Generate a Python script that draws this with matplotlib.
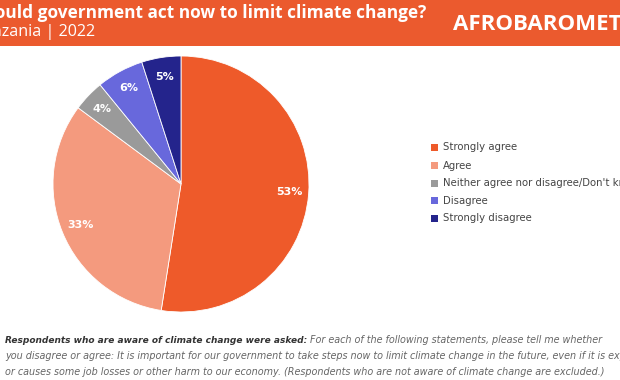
import matplotlib
matplotlib.use("Agg")
import matplotlib.pyplot as plt
from matplotlib.patches import Rectangle

categories = ["Strongly agree", "Agree", "Neither agree nor disagree/Don't know",
              "Disagree", "Strongly disagree"]
values = [53, 33, 4, 6, 5]
colors = ["#EE5A2A", "#F49A7E", "#9A9A9A", "#6868DC", "#24248C"]

title = "Should government act now to limit climate change?"
subtitle = "Tanzania | 2022"
note_bold = "Respondents who are aware of climate change were asked:"
note_1 = " For each of the following statements, please tell me whether"
note_2 = ("you disagree or agree: It is important for our government to take steps now to limit climate change in the future, even if it is expensive")
note_3 = ("or causes some job losses or other harm to our economy. (Respondents who are not aware of climate change are excluded.)")

W, H = 620, 380
fig = plt.figure(figsize=(W / 100, H / 100), dpi=100)
fig.patch.set_facecolor("white")

def fx(px):
    return px / W

def fy(py):
    return 1 - py / H

# header band
fig.patches.append(Rectangle((0, fy(46)), 1, 46 / H, transform=fig.transFigure,
                             facecolor="#EB5A2E", edgecolor="none", zorder=0))
fig.text(fx(426), fy(18), title, ha="right", va="baseline", color="white",
         fontsize=12.4, fontweight="bold", family="Open Sans")
fig.text(fx(95), fy(36), subtitle, ha="right", va="baseline", color="white",
         fontsize=11.6, family="Open Sans")
fig.text(fx(453), fy(30), "AFROBAROMETER", ha="left", va="baseline", color="white",
         fontsize=16, fontweight="bold", family="Open Sans")

# pie
cx, cy, r = 181, 184, 128
ax = fig.add_axes([fx(cx - r), fy(cy + r), 2 * r / W, 2 * r / H])
it = iter(values)
wedges, texts, autotexts = ax.pie(
    values, colors=colors, startangle=90, counterclock=False, radius=1,
    autopct=lambda p: f"{next(it)}%", pctdistance=0.85,
    wedgeprops=dict(edgecolor="white", linewidth=0.6),
    textprops=dict(color="white", fontweight="bold", fontsize=8))
ax.set_xlim(-1, 1)
ax.set_ylim(-1, 1)
ax.set_aspect("equal")
ax.axis("off")

# legend
ys = [147, 165, 183, 200, 218]
for cat, col, y in zip(categories, colors, ys):
    fig.patches.append(Rectangle((fx(431), fy(y + 3.5)), 7 / W, 7 / H,
                                 transform=fig.transFigure, facecolor=col,
                                 edgecolor="none"))
    fig.text(fx(443), fy(y + 0.5), cat, ha="left", va="center", fontsize=7.3,
             color="#444444", family="DejaVu Sans")

# footnote
t1 = fig.text(fx(5), fy(343), note_bold, ha="left", va="baseline", fontsize=6.5,
              fontweight="bold", style="italic", color="#333333", family="DejaVu Sans")
fig.canvas.draw()
bb = t1.get_window_extent()
fig.text(bb.x1 / W, fy(343), note_1, ha="left", va="baseline", fontsize=6.9,
         style="italic", color="#666666", family="DejaVu Sans")
fig.text(fx(5), fy(359), note_2, ha="left", va="baseline", fontsize=6.9,
         style="italic", color="#666666", family="DejaVu Sans")
fig.text(fx(5), fy(375), note_3, ha="left", va="baseline", fontsize=6.9,
         style="italic", color="#666666", family="DejaVu Sans")

fig.savefig("out.png", dpi=100, facecolor="white")
